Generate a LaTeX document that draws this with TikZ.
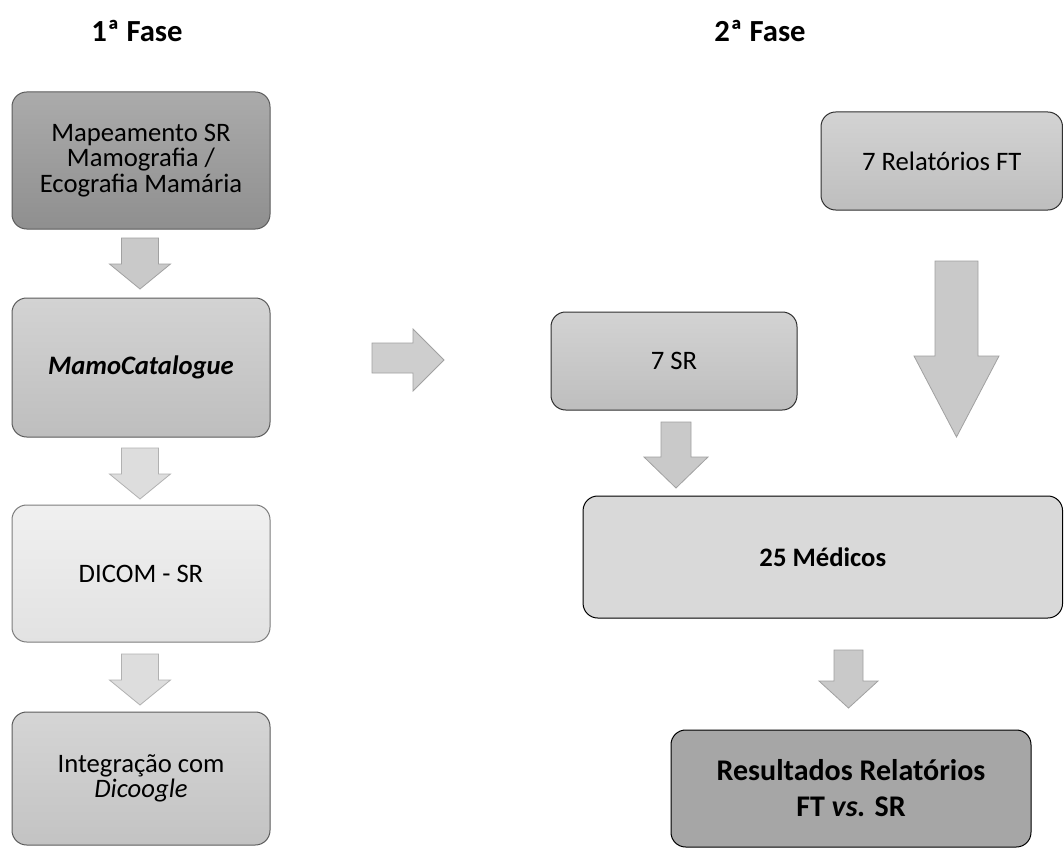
\documentclass[tikz,border=0pt]{standalone}
\usepackage{fontspec}
\setmainfont{Carlito}
\setlength{\lineskiplimit}{-20pt}
\definecolor{linha}{HTML}{5C5C5C}
\definecolor{linhaB}{HTML}{303030}
\definecolor{mapaA}{HTML}{ABABAB}
\definecolor{mapaB}{HTML}{8F8F8F}
\definecolor{mamoA}{HTML}{D3D3D3}
\definecolor{mamoB}{HTML}{BEBEBE}
\definecolor{dicomA}{HTML}{F0F0F0}
\definecolor{dicomB}{HTML}{E2E2E2}
\definecolor{integA}{HTML}{D5D5D5}
\definecolor{integB}{HTML}{C3C3C3}
\definecolor{medicos}{HTML}{D9D9D9}
\definecolor{result}{HTML}{A6A6A6}
\definecolor{setaA}{HTML}{C9C9C9}
\definecolor{setaB}{HTML}{DDDDDD}
% seta de bloco para baixo: cor, x centro, meia haste, meia ponta, y topo, y ponta-base, y bico
\newcommand{\setabaixo}[7]{%
  \draw[draw=#1!80!black,fill=#1,line width=0.6pt] ({#2-#3},#5) -- ({#2+#3},#5) -- ({#2+#3},#6) -- ({#2+#4},#6)
    -- (#2,#7) -- ({#2-#4},#6) -- ({#2-#3},#6) -- cycle;}

\begin{document}
\begin{tikzpicture}[x=0.75pt,y=-0.75pt,
  caixa/.style={draw=linha,line width=0.75pt,rounded corners=11pt,align=center,inner sep=0pt,
    font=\fontsize{20}{19}\selectfont},
  fase/.style={font=\fontsize{23}{27}\selectfont\bfseries}]
\fill[white] (0,0) rectangle (1064,849);
\useasboundingbox (0,0) rectangle (1064,849);
% titulos
\node[fase] (f1) at (137,31) {1ª Fase};
\node[fase] (f2) at (760,31) {2ª Fase};
% 1a fase
\node[caixa,top color=mapaA,bottom color=mapaB,minimum width=193.5pt,minimum height=102.75pt] (mapa) at (141,160.5)
  {Mapeamento SR\\Mamografia /\\Ecografia Mamária};
\node[caixa,top color=mamoA,bottom color=mamoB,minimum width=193.5pt,minimum height=104.25pt] (mamo) at (141,367.5)
  {\textbf{\textit{MamoCatalogue}}};
\node[caixa,draw=linha!80,top color=dicomA,bottom color=dicomB,minimum width=193.5pt,minimum height=102.75pt] (dicom) at (141,573.5)
  {DICOM - SR};
\node[caixa,top color=integA,bottom color=integB,minimum width=193.5pt,minimum height=99.75pt] (integ) at (141,778.5)
  {Integração com\\\textit{Dicoogle}};
\setabaixo{setaA}{140}{18.5}{30.5}{238}{264}{289}
\foreach \yt in {448,654}
  \setabaixo{setaB}{140}{18.5}{30.5}{\yt}{\yt+26}{\yt+51};
% passagem para a 2a fase
\draw[draw=setaA!80!black,fill=setaA!90!white,line width=0.6pt] (372,343) -- (413,343) -- (413,329) -- (444,360)
  -- (413,391) -- (413,373) -- (372,373) -- cycle;
% 2a fase
\node[caixa,draw=linhaB,top color=mamoA,bottom color=mamoB,minimum width=181.1pt,minimum height=73.5pt] (rel) at (941.75,161)
  {7 Relatórios FT};
\node[caixa,draw=linhaB,top color=mamoA,bottom color=mamoB,minimum width=184.5pt,minimum height=73.5pt] (sr) at (674,361)
  {7 SR};
\node[caixa,draw=black,fill=medicos,minimum width=359.6pt,minimum height=91.5pt] (med) at (822.8,557)
  {\textbf{25 Médicos}};
\node[caixa,draw=black,fill=result,minimum width=270pt,minimum height=87.75pt,
  font=\fontsize{22.5}{27}\selectfont\bfseries] (res) at (851,788.5)
  {Resultados Relatórios\\FT \textit{vs.} SR};
\setabaixo{setaA}{956.5}{21.5}{42.5}{261}{356}{437}
\setabaixo{setaA}{676}{15}{32}{422}{457}{488}
\setabaixo{setaA}{848.5}{14.5}{29.5}{650}{681}{708}
\end{tikzpicture}
\end{document}
